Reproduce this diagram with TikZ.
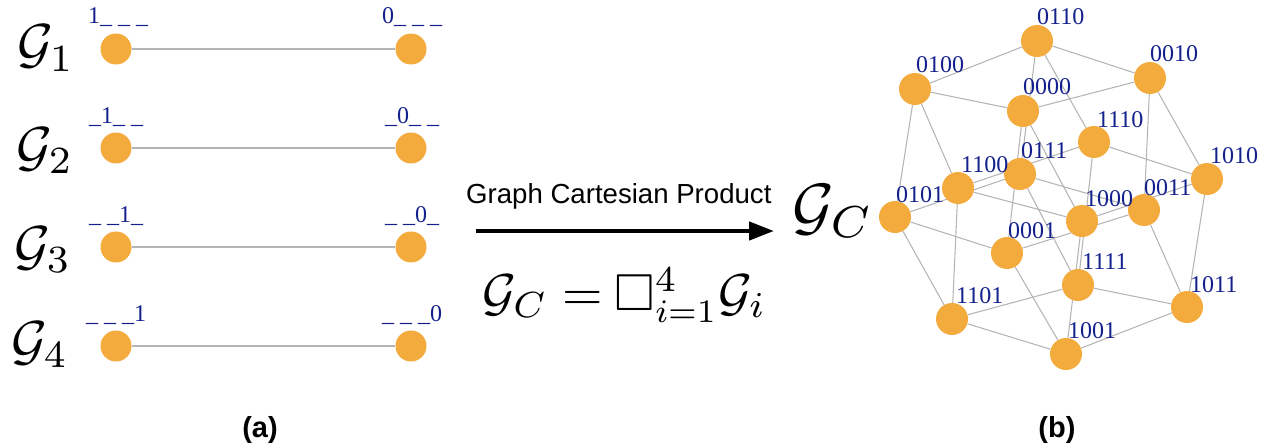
\documentclass[tikz,border=0pt]{standalone}
\usepackage{fontspec}
\usepackage{amssymb}
\usepackage{graphicx}
\setmainfont{Liberation Serif}
\newfontfamily\sansfam{Liberation Sans}
\usetikzlibrary{arrows.meta}
\definecolor{nodeorange}{HTML}{F3AB3E}
\definecolor{edgegray}{HTML}{B4B4B4}
\definecolor{labelblue}{HTML}{14208C}
\pgfdeclarelayer{bg}
\pgfsetlayers{bg,main}
\tikzset{
  x=1pt,y=-1pt,
  vtx/.style={circle,fill=nodeorange,inner sep=0pt,minimum size=32pt},
  lvtx/.style={circle,fill=nodeorange,inner sep=0pt,minimum size=31pt},
  edge/.style={draw=edgegray,line width=1.05pt},
  bitlabel/.style={anchor=base west,inner sep=0pt,text=labelblue,font=\fontsize{24}{24}\selectfont},
  glabel/.style={anchor=base west,inner sep=0pt},
  captext/.style={anchor=base,inner sep=0pt,font=\sansfam\bfseries\fontsize{29}{29}\selectfont},
}
\newcommand{\us}{\_}
\begin{document}
\begin{tikzpicture}
\useasboundingbox (0,0) rectangle (1266,444);
% left graphs
\foreach \r/\y in {1/49,2/148,3/247,4/346}{
  \node[lvtx] (a\r) at (116,\y) {};
  \node[lvtx] (b\r) at (411,\y) {};
  \begin{pgfonlayer}{bg}\draw[edge] (a\r) -- (b\r);\end{pgfonlayer}
}
\node[bitlabel] (la1) at (88,24) {1\us\ \us\ \us};
\node[bitlabel] (lb1) at (382,24) {0\us\ \us\ \us};
\node[bitlabel] (la2) at (89,123) {\us 1\us\ \us};
\node[bitlabel] (lb2) at (385,123) {\us 0\us\ \us};
\node[bitlabel] (la3) at (89,222) {\us\ \us 1\us};
\node[bitlabel] (lb3) at (385,222) {\us\ \us 0\us};
\node[bitlabel] (la4) at (86,321) {\us\ \us\ \us 1};
\node[bitlabel] (lb4) at (382,321) {\us\ \us\ \us 0};
\node[glabel] (g1) at (17,63) {\scalebox{5.5}{$\mathcal{G}_1$}};
\node[glabel] (g2) at (16,165) {\scalebox{5.5}{$\mathcal{G}_2$}};
\node[glabel] (g3) at (14,264) {\scalebox{5.5}{$\mathcal{G}_3$}};
\node[glabel] (g4) at (11,359) {\scalebox{5.5}{$\mathcal{G}_4$}};
% middle
\node[anchor=base west,inner sep=0pt,font=\sansfam\fontsize{27.6}{27.6}\selectfont] (gcp) at (466,203) {Graph Cartesian Product};
\coordinate (as) at (476,231);
\coordinate (ae) at (774,231);
\draw[line width=4.4pt,-{Triangle[length=25pt,width=18pt]}] (as) -- (ae);
\node[glabel] (gc) at (792,228) {\scalebox{6.4}{$\mathcal{G}_C$}};
\node[glabel] (eq) at (482,310) {\scalebox{5.2}{$\mathcal{G}_C=\mkern-1mu\square_{\scalebox{.9}{$\scriptstyle i=1$}}^4\mathcal{G}_i$}};
% cube nodes: name, x, y, label dx, label dy
\foreach \n/\x/\y/\dx/\dy in {
  0110/1037/41/0/-16,0010/1150/78/0/-16,0100/915/89/1/-16,0000/1023/111/0/-16,
  1110/1094/142/3/-15,1010/1207/179/3/-16,0111/1020/174/1/-16,1100/958/188/3/-16,
  0101/895/217/1/-15,1000/1082/221/3/-15,0011/1144/210/0/-15,0001/1007/253/1/-15,
  1111/1078/285/4/-16,1101/952/319/4/-16,1011/1187/307/3/-15,1001/1066/354/2/-16}{
  \node[vtx] (v\n) at (\x,\y) {};
}
\foreach \a/\b in {
  0000/0001,0000/0010,0000/0100,0000/1000,
  0001/0011,0001/0101,0001/1001,
  0010/0011,0010/0110,0010/1010,
  0011/0111,0011/1011,
  0100/0101,0100/0110,0100/1100,
  0101/0111,0101/1101,
  0110/0111,0110/1110,
  0111/1111,
  1000/1001,1000/1010,1000/1100,
  1001/1011,1001/1101,
  1010/1011,1010/1110,
  1011/1111,
  1100/1101,1100/1110,
  1101/1111,
  1110/1111}{
  \begin{pgfonlayer}{bg}\draw[edge] (v\a) -- (v\b);\end{pgfonlayer}
}
\foreach \n/\x/\y/\dx/\dy in {
  0110/1037/41/0/-16,0010/1150/78/0/-16,0100/915/89/1/-16,0000/1023/111/0/-16,
  1110/1094/142/3/-15,1010/1207/179/3/-16,0111/1020/174/1/-16,1100/958/188/3/-16,
  0101/895/217/1/-15,1000/1082/221/3/-15,0011/1144/210/0/-15,0001/1007/253/1/-15,
  1111/1078/285/4/-16,1101/952/319/4/-16,1011/1187/307/3/-15,1001/1066/354/2/-16}{
  \node[bitlabel] (t\n) at ([shift={(\dx,\dy)}]v\n.center) {\n};
}
% captions
\node[captext] (capa) at (260,437) {(a)};
\node[captext] (capb) at (1057,437) {(b)};
\end{tikzpicture}
\end{document}
